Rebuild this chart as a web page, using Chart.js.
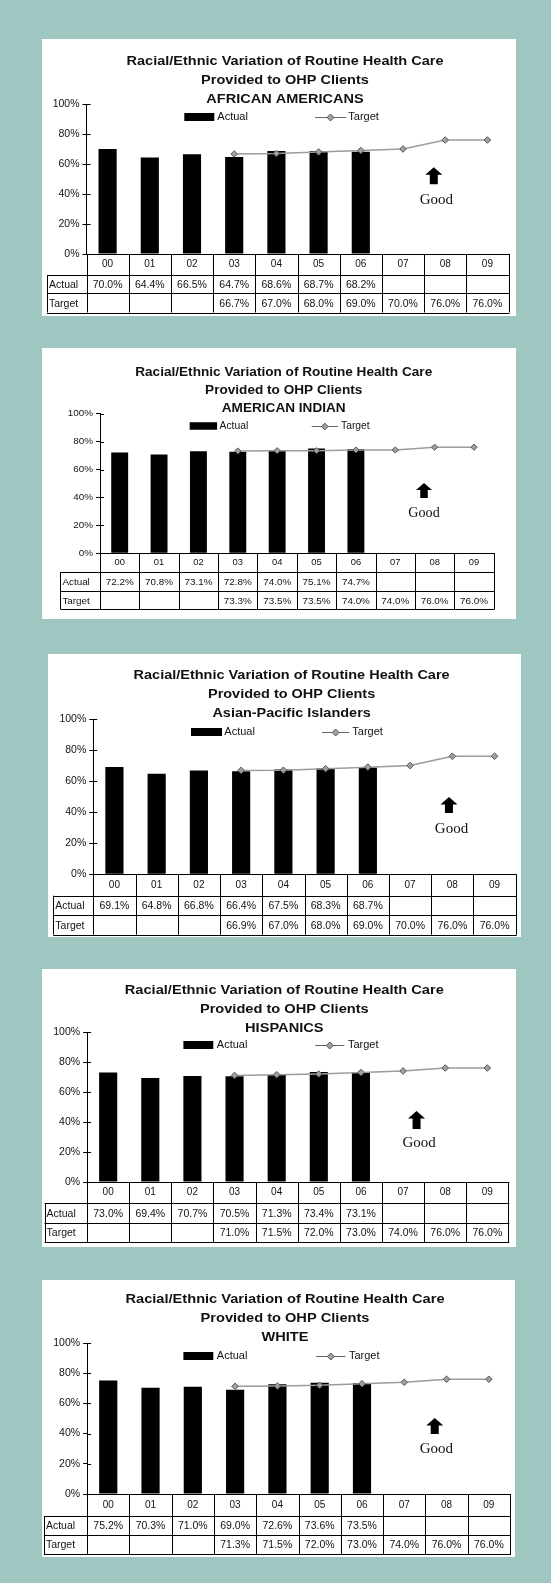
<!DOCTYPE html>
<html>
<head>
<meta charset="utf-8">
<script src="https://cdn.jsdelivr.net/npm/chart.js@4.4.1/dist/chart.umd.min.js"></script>
<style>
  body { margin: 0; background: #9fc7c1; }
  #page { position: relative; width: 551px; height: 1583px; background: #9fc7c1; }
  .panel { position: absolute; background: #fff; }
  .panel canvas { display: block; }
</style>
</head>
<body>
<div id="page"></div>
<script>
// Chart data
const years = ['00', '01', '02', '03', '04', '05', '06', '07', '08', '09'];
const rowLabels = ['Actual', 'Target'];
const titleLines = ['Racial/Ethnic Variation of Routine Health Care', 'Provided to OHP Clients'];
const groups = ['AFRICAN AMERICANS', 'AMERICAN INDIAN', 'Asian-Pacific Islanders', 'HISPANICS', 'WHITE'];
const yTicks = [0, 20, 40, 60, 80, 100];

const actualAfricanAm = [70.0, 64.4, 66.5, 64.7, 68.6, 68.7, 68.2, null, null, null];
const targetAfricanAm = [null, null, null, 66.7, 67.0, 68.0, 69.0, 70.0, 76.0, 76.0];

const actualAmIndian = [72.2, 70.8, 73.1, 72.8, 74.0, 75.1, 74.7, null, null, null];
const targetAmIndian = [null, null, null, 73.3, 73.5, 73.5, 74.0, 74.0, 76.0, 76.0];

const actualAsianPac = [69.1, 64.8, 66.8, 66.4, 67.5, 68.3, 68.7, null, null, null];
const targetAsianPac = [null, null, null, 66.9, 67.0, 68.0, 69.0, 70.0, 76.0, 76.0];

const actualHispanic = [73.0, 69.4, 70.7, 70.5, 71.3, 73.4, 73.1, null, null, null];
const targetHispanic = [null, null, null, 71.0, 71.5, 72.0, 73.0, 74.0, 76.0, 76.0];

const actualWhite = [75.2, 70.3, 71.0, 69.0, 72.6, 73.6, 73.5, null, null, null];
const targetWhite = [null, null, null, 71.3, 71.5, 72.0, 73.0, 74.0, 76.0, 76.0];

const actualSeries = [actualAfricanAm, actualAmIndian, actualAsianPac, actualHispanic, actualWhite];
const targetSeries = [targetAfricanAm, targetAmIndian, targetAsianPac, targetHispanic, targetWhite];

// Panel geometry (box in page px, the rest panel-local px)
const panelLayouts = [
  { box: [42, 39, 474, 277], fs: 1.0, lh: 19, title1: 22, titleCx: 243, titleW: 317,
    area: [44.5, 65, 466.5, 215], labelLeft: 5, rows: [236, 254, 273.5],
    legend: { y: 78, boxL: 142.3, boxR: 172.3, aTx: 175.3, lineL: 273, lineR: 304, tTx: 306.3 },
    arrowX: 7.73, arrowTop: 57.8, arrowBot: 46.5, goodX: 7.79, goodY: 36 },
  { box: [42, 348, 474, 271], fs: 0.94, lh: 18, title1: 25, titleCx: 241.7, titleW: 297,
    area: [58, 65.7, 451.7, 205.3], labelLeft: 18.4, rows: [224, 243, 261],
    legend: { y: 78, boxL: 147.7, boxR: 175.1, aTx: 177.5, lineL: 269.7, lineR: 296, tTx: 299 },
    arrowX: 7.73, arrowTop: 50.4, arrowBot: 39.6, goodX: 7.73, goodY: 28.9 },
  { box: [48, 654, 473, 283], fs: 1.0, lh: 19, title1: 21.7, titleCx: 243.6, titleW: 316,
    area: [45.3, 65, 467.7, 220.3], labelLeft: 5.3, rows: [241.7, 261, 280.7],
    legend: { y: 78, boxL: 143, boxR: 174, aTx: 176.3, lineL: 274, lineR: 301.3, tTx: 304.3 },
    arrowX: 7.92, arrowTop: 49.8, arrowBot: 39.5, goodX: 7.98, goodY: 29.2 },
  { box: [42, 969, 474, 278], fs: 1.0, lh: 19, title1: 21, titleCx: 242.3, titleW: 319,
    area: [45.1, 63, 466.4, 213], labelLeft: 2.6, rows: [234, 254, 273],
    legend: { y: 76, boxL: 141.4, boxR: 171.3, aTx: 174.8, lineL: 273.2, lineR: 302.3, tTx: 305.9 },
    arrowX: 7.32, arrowTop: 47.3, arrowBot: 35.3, goodX: 7.38, goodY: 26 },
  { box: [42, 1280, 473, 277], fs: 1.0, lh: 19, title1: 19, titleCx: 243, titleW: 319,
    area: [45.1, 63, 469.2, 214], labelLeft: 1.9, rows: [236, 255, 274],
    legend: { y: 76, boxL: 141.4, boxR: 171.3, aTx: 174.8, lineL: 274.2, lineR: 303.4, tTx: 306.9 },
    arrowX: 7.72, arrowTop: 50.3, arrowBot: 39.7, goodX: 7.76, goodY: 29.8 }
];

const SANS = "'Liberation Sans', Arial, sans-serif";
const SERIF = "'Liberation Serif', 'Times New Roman', serif";
const INK = '#111';
const LINE_GRAY = '#9c9c9c';

function crisp(v) { return Math.round(v) + 0.5; }

function drawDiamond(ctx, cx, cy, r) {
  ctx.beginPath();
  ctx.moveTo(cx, cy - r);
  ctx.lineTo(cx + r, cy);
  ctx.lineTo(cx, cy + r);
  ctx.lineTo(cx - r, cy);
  ctx.closePath();
  ctx.fillStyle = '#a0a0a0';
  ctx.fill();
  ctx.strokeStyle = '#555';
  ctx.lineWidth = 1;
  ctx.stroke();
}

// Title, legend, "Good" arrow and the data table under the axis
const extrasPlugin = {
  id: 'ohpExtras',
  afterDraw(chart, args, opts) {
    const L = opts.layout;
    const idx = opts.index;
    const fs = L.fs;
    const { ctx } = chart;
    const x = chart.scales.x;
    const y = chart.scales.y;
    const actual = chart.data.datasets[1].data;
    const target = chart.data.datasets[0].data;
    ctx.save();

    // title (the reference text is a bit wider than Arial, so stretch it)
    ctx.font = `bold ${13 * fs}px ${SANS}`;
    ctx.fillStyle = INK;
    ctx.textAlign = 'center';
    ctx.textBaseline = 'middle';
    const sx = L.titleW / ctx.measureText(titleLines[0]).width;
    [titleLines[0], titleLines[1], groups[idx]].forEach((t, i) => {
      ctx.save();
      ctx.translate(L.titleCx, L.title1 + i * L.lh);
      ctx.scale(sx, 1);
      ctx.fillText(t, 0, 0);
      ctx.restore();
    });

    // inner half of the y tick marks
    ctx.strokeStyle = '#000';
    ctx.lineWidth = 1;
    ctx.beginPath();
    yTicks.forEach(v => {
      const py = crisp(y.getPixelForValue(v));
      ctx.moveTo(y.right, py);
      ctx.lineTo(y.right + 4, py);
    });
    ctx.stroke();

    // legend
    const lg = L.legend;
    ctx.font = `${11 * fs}px ${SANS}`;
    ctx.textBaseline = 'middle';
    ctx.textAlign = 'left';
    ctx.fillStyle = '#000';
    ctx.fillRect(lg.boxL, lg.y - 4 * fs, lg.boxR - lg.boxL, 8 * fs);
    ctx.fillStyle = INK;
    ctx.fillText(rowLabels[0], lg.aTx, lg.y);
    ctx.beginPath();
    ctx.moveTo(lg.lineL, crisp(lg.y));
    ctx.lineTo(lg.lineR, crisp(lg.y));
    ctx.strokeStyle = '#666';
    ctx.lineWidth = 1;
    ctx.stroke();
    drawDiamond(ctx, (lg.lineL + lg.lineR) / 2, lg.y + 0.5, 3.5 * fs);
    ctx.fillStyle = INK;
    ctx.fillText(rowLabels[1], lg.tTx, lg.y);

    // "Good" arrow
    const ax = x.getPixelForValue(L.arrowX);
    const aTop = y.getPixelForValue(L.arrowTop);
    const aBot = y.getPixelForValue(L.arrowBot);
    const headH = 7.5 * fs, headW = 8.5 * fs, shaftW = 4 * fs;
    ctx.beginPath();
    ctx.moveTo(ax, aTop);
    ctx.lineTo(ax + headW, aTop + headH);
    ctx.lineTo(ax + shaftW, aTop + headH);
    ctx.lineTo(ax + shaftW, aBot);
    ctx.lineTo(ax - shaftW, aBot);
    ctx.lineTo(ax - shaftW, aTop + headH);
    ctx.lineTo(ax - headW, aTop + headH);
    ctx.closePath();
    ctx.fillStyle = '#000';
    ctx.fill();
    ctx.font = `${15 * fs}px ${SERIF}`;
    ctx.textAlign = 'center';
    ctx.fillStyle = INK;
    ctx.fillText('Good', x.getPixelForValue(L.goodX), y.getPixelForValue(L.goodY));

    // table grid
    const n = years.length;
    const colW = (x.right - x.left) / n;
    const r0 = x.top, r1 = L.rows[0], r2 = L.rows[1], r3 = L.rows[2];
    ctx.strokeStyle = '#000';
    ctx.lineWidth = 1;
    ctx.beginPath();
    for (let i = 0; i <= n; i++) {
      const px = crisp(x.left + i * colW);
      ctx.moveTo(px, r0);
      ctx.lineTo(px, r3);
    }
    ctx.moveTo(crisp(L.labelLeft), r1);
    ctx.lineTo(crisp(L.labelLeft), r3);
    [r1, r2, r3].forEach(ry => {
      ctx.moveTo(L.labelLeft, crisp(ry));
      ctx.lineTo(x.right + 1, crisp(ry));
    });
    ctx.moveTo(x.left, crisp(r0));
    ctx.lineTo(x.right + 1, crisp(r0));
    ctx.stroke();

    // table text
    ctx.font = `${10.5 * fs}px ${SANS}`;
    ctx.fillStyle = INK;
    ctx.textAlign = 'left';
    ctx.fillText(rowLabels[0], L.labelLeft + 2, (r1 + r2) / 2 + 1);
    ctx.fillText(rowLabels[1], L.labelLeft + 2, (r2 + r3) / 2 + 1);
    ctx.textAlign = 'center';
    for (let i = 0; i < n; i++) {
      const cx = x.getPixelForTick(i);
      if (actual[i] != null) ctx.fillText(actual[i].toFixed(1) + '%', cx, (r1 + r2) / 2 + 1);
      if (target[i] != null) ctx.fillText(target[i].toFixed(1) + '%', cx, (r2 + r3) / 2 + 1);
    }
    ctx.restore();
  }
};

function buildPanel(idx) {
  const L = panelLayouts[idx];
  const [bx, by, bw, bh] = L.box;
  const [left, top, right, bottom] = L.area;
  const fs = L.fs;

  const div = document.createElement('div');
  div.className = 'panel';
  div.style.left = bx + 'px';
  div.style.top = by + 'px';
  div.style.width = bw + 'px';
  div.style.height = bh + 'px';
  const canvas = document.createElement('canvas');
  canvas.width = bw;
  canvas.height = bh;
  canvas.style.width = bw + 'px';
  canvas.style.height = bh + 'px';
  div.appendChild(canvas);
  document.getElementById('page').appendChild(div);

  const padLeft = Math.max(1, L.labelLeft - 1);
  const headerH = L.rows[0] - bottom;

  new Chart(canvas, {
    data: {
      labels: years,
      datasets: [
        {
          type: 'line',
          label: rowLabels[1],
          data: targetSeries[idx],
          borderColor: LINE_GRAY,
          borderWidth: 1.5,
          pointStyle: 'rectRot',
          pointRadius: 3.3 * fs,
          pointBackgroundColor: '#a0a0a0',
          pointBorderColor: '#555',
          pointBorderWidth: 1,
          spanGaps: false,
          order: 0
        },
        {
          type: 'bar',
          label: rowLabels[0],
          data: actualSeries[idx],
          backgroundColor: '#000',
          barPercentage: 0.43,
          categoryPercentage: 1.0,
          order: 1
        }
      ]
    },
    options: {
      responsive: false,
      devicePixelRatio: 1,
      animation: false,
      layout: {
        padding: { left: padLeft, right: bw - right, top: top, bottom: bh - L.rows[2] }
      },
      scales: {
        x: {
          type: 'category',
          offset: true,
          grid: { display: false, drawTicks: false },
          border: { display: true, color: '#000', width: 1 },
          ticks: {
            color: INK,
            font: { family: SANS, size: 10 * fs },
            padding: headerH / 2 - 6 * fs,
            maxRotation: 0,
            autoSkip: false
          },
          afterFit(scale) { scale.height = L.rows[2] - bottom; }
        },
        y: {
          min: 0,
          max: 100,
          afterBuildTicks(scale) { scale.ticks = yTicks.map(v => ({ value: v })); },
          grid: { drawOnChartArea: false, drawTicks: true, tickLength: 4, color: '#000' },
          border: { display: true, color: '#000', width: 1 },
          ticks: {
            color: INK,
            padding: 3,
            font: { family: SANS, size: 10.5 * fs },
            callback: v => v + '%'
          },
          afterFit(scale) { scale.width = left - padLeft; }
        }
      },
      plugins: {
        legend: { display: false },
        tooltip: { enabled: false },
        title: { display: false },
        ohpExtras: { layout: L, index: idx }
      }
    },
    plugins: [extrasPlugin]
  });
}

for (let i = 0; i < groups.length; i++) buildPanel(i);
</script>
</body>
</html>
